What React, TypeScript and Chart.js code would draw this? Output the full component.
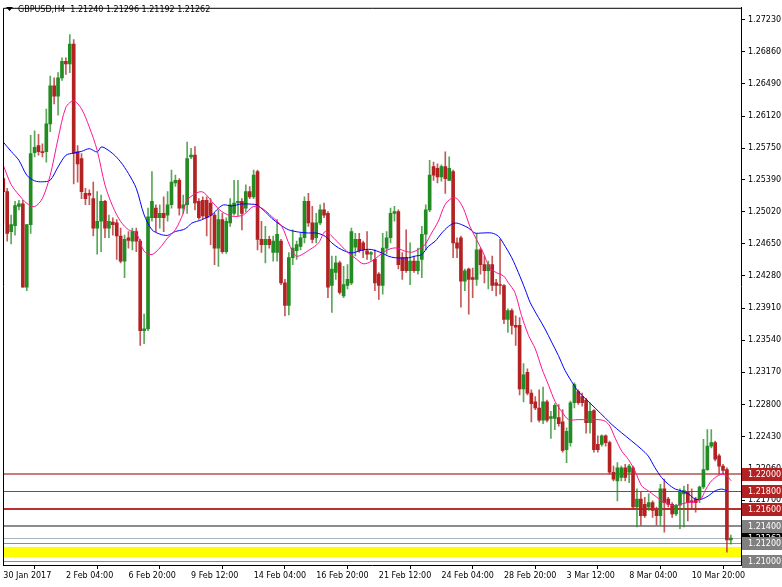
import React, { useEffect, useRef } from "react";
import { Chart, registerables } from "chart.js";

Chart.register(...registerables);

// ---- DATA ----
const opens = [
  1.2540, 1.2525, 1.2479, 1.2486, 1.2508, 1.2511, 1.2415, 1.2487, 1.2570, 1.2578,
  1.2571, 1.2571, 1.2603, 1.2647, 1.2635, 1.2656, 1.2675, 1.2672, 1.2695, 1.2571,
  1.2563, 1.2523, 1.2523, 1.2517, 1.2483, 1.2491, 1.2514, 1.2483, 1.2490, 1.2489,
  1.2474, 1.2445, 1.2472, 1.2468, 1.2479, 1.2468, 1.2365, 1.2367, 1.2495, 1.2506,
  1.2495, 1.2500, 1.2498, 1.2510, 1.2535, 1.2538, 1.2506, 1.2510, 1.2565, 1.2567,
  1.2514, 1.2515, 1.2515, 1.2512, 1.2498, 1.2460, 1.2493, 1.2456, 1.2489, 1.2500,
  1.2512, 1.2514, 1.2506, 1.2525, 1.2519, 1.2548, 1.2470, 1.2464, 1.2470, 1.2455,
  1.2455, 1.2468, 1.2420, 1.2394, 1.2449, 1.2457, 1.2462, 1.2472, 1.2514, 1.2489,
  1.2472, 1.2489, 1.2504, 1.2500, 1.2417, 1.2432, 1.2443, 1.2405, 1.2417, 1.2420,
  1.2461, 1.2470, 1.2466, 1.2457, 1.2453, 1.2447, 1.2430, 1.2417, 1.2460, 1.2472,
  1.2500, 1.2502, 1.2449, 1.2449, 1.2434, 1.2445, 1.2434, 1.2447, 1.2476, 1.2504,
  1.2554, 1.2552, 1.2542, 1.2554, 1.2538, 1.2548, 1.2466, 1.2472, 1.2422, 1.2436,
  1.2426, 1.2424, 1.2458, 1.2441, 1.2434, 1.2441, 1.2420, 1.2418, 1.2417, 1.2378,
  1.2388, 1.2371, 1.2371, 1.2298, 1.2317, 1.2293, 1.2283, 1.2276, 1.2262, 1.2283,
  1.2264, 1.2264, 1.2265, 1.2260, 1.2228, 1.2236, 1.2282, 1.2295, 1.2289, 1.2285,
  1.2259, 1.2273, 1.2234, 1.2234, 1.2244, 1.2236, 1.2202, 1.2192, 1.2196, 1.2207,
  1.2202, 1.2207, 1.2162, 1.2171, 1.2165, 1.2162, 1.2167, 1.2158, 1.2152, 1.2183,
  1.2171, 1.2165, 1.2154, 1.2164, 1.2177, 1.2179, 1.2169, 1.2171, 1.2171, 1.2185,
  1.2205, 1.2232, 1.2236, 1.2221, 1.2209, 1.2205, 1.21240,
];
const highs = [
  1.2548, 1.2529, 1.2498, 1.2514, 1.2515, 1.2515, 1.2487, 1.2590, 1.2595, 1.2591,
  1.2580, 1.2620, 1.2658, 1.2656, 1.2662, 1.2679, 1.2679, 1.2706, 1.2700, 1.2578,
  1.2569, 1.2529, 1.2527, 1.2536, 1.2525, 1.2521, 1.2515, 1.2498, 1.2495, 1.2493,
  1.2483, 1.2475, 1.2479, 1.2483, 1.2483, 1.2470, 1.2384, 1.2506, 1.2548, 1.2510,
  1.2510, 1.2519, 1.2525, 1.2550, 1.2544, 1.2540, 1.2521, 1.2582, 1.2575, 1.2577,
  1.2517, 1.2519, 1.2519, 1.2517, 1.2500, 1.2504, 1.2500, 1.2495, 1.2517, 1.2538,
  1.2538, 1.2517, 1.2533, 1.2531, 1.2550, 1.2550, 1.2491, 1.2485, 1.2474, 1.2474,
  1.2493, 1.2470, 1.2424, 1.2455, 1.2481, 1.2468, 1.2477, 1.2519, 1.2523, 1.2508,
  1.2500, 1.2510, 1.2512, 1.2502, 1.2451, 1.2451, 1.2445, 1.2439, 1.2441, 1.2483,
  1.2477, 1.2477, 1.2468, 1.2479, 1.2456, 1.2458, 1.2432, 1.2477, 1.2479, 1.2506,
  1.2508, 1.2504, 1.2455, 1.2481, 1.2466, 1.2451, 1.2460, 1.2485, 1.2510, 1.2561,
  1.2559, 1.2557, 1.2556, 1.2571, 1.2565, 1.2550, 1.2472, 1.2474, 1.2436, 1.2437,
  1.2437, 1.2477, 1.2460, 1.2451, 1.2445, 1.2451, 1.2424, 1.2470, 1.2418, 1.2390,
  1.2390, 1.2382, 1.2380, 1.2327, 1.2321, 1.2297, 1.2289, 1.2297, 1.2300, 1.2285,
  1.2272, 1.2281, 1.2280, 1.2274, 1.2253, 1.2284, 1.2305, 1.2297, 1.2293, 1.2287,
  1.2282, 1.2274, 1.2244, 1.2245, 1.2245, 1.2238, 1.2209, 1.2213, 1.2209, 1.2211,
  1.2211, 1.2209, 1.2183, 1.2179, 1.2173, 1.2177, 1.2169, 1.2162, 1.2188, 1.2194,
  1.2173, 1.2167, 1.2165, 1.2183, 1.2186, 1.2188, 1.2183, 1.2173, 1.2186, 1.2240,
  1.2251, 1.2251, 1.2238, 1.2223, 1.2211, 1.2207, 1.21296,
];
const lows = [
  1.2489, 1.2468, 1.2465, 1.2475, 1.2504, 1.2415, 1.2411, 1.2477, 1.2565, 1.2567,
  1.2565, 1.2559, 1.2594, 1.2626, 1.2613, 1.2653, 1.2660, 1.2662, 1.2534, 1.2536,
  1.2517, 1.2510, 1.2510, 1.2474, 1.2453, 1.2456, 1.2472, 1.2472, 1.2475, 1.2447,
  1.2443, 1.2426, 1.2460, 1.2458, 1.2456, 1.2348, 1.2350, 1.2365, 1.2491, 1.2479,
  1.2483, 1.2479, 1.2491, 1.2506, 1.2531, 1.2498, 1.2500, 1.2500, 1.2563, 1.2504,
  1.2493, 1.2494, 1.2474, 1.2464, 1.2441, 1.2439, 1.2454, 1.2454, 1.2485, 1.2498,
  1.2497, 1.2481, 1.2502, 1.2517, 1.2517, 1.2458, 1.2455, 1.2443, 1.2460, 1.2445,
  1.2445, 1.2418, 1.2382, 1.2383, 1.2441, 1.2447, 1.2458, 1.2466, 1.2485, 1.2466,
  1.2466, 1.2487, 1.2495, 1.2403, 1.2386, 1.2424, 1.2407, 1.2403, 1.2413, 1.2418,
  1.2451, 1.2455, 1.2449, 1.2447, 1.2446, 1.2411, 1.2401, 1.2407, 1.2453, 1.2466,
  1.2491, 1.2436, 1.2424, 1.2432, 1.2418, 1.2432, 1.2430, 1.2426, 1.2458, 1.2502,
  1.2538, 1.2535, 1.2537, 1.2523, 1.2538, 1.2449, 1.2449, 1.2392, 1.2411, 1.2384,
  1.2403, 1.2417, 1.2430, 1.2420, 1.2413, 1.2411, 1.2405, 1.2407, 1.2373, 1.2363,
  1.2361, 1.2348, 1.2291, 1.2283, 1.2291, 1.2260, 1.2274, 1.2260, 1.2258, 1.2260,
  1.2241, 1.2251, 1.2255, 1.2225, 1.2213, 1.2232, 1.2276, 1.2280, 1.2278, 1.2247,
  1.2247, 1.2225, 1.2225, 1.2232, 1.2232, 1.2200, 1.2192, 1.2169, 1.2192, 1.2192,
  1.2190, 1.2160, 1.2139, 1.2141, 1.2150, 1.2158, 1.2150, 1.2141, 1.2141, 1.2133,
  1.2162, 1.2150, 1.2152, 1.2137, 1.2139, 1.2146, 1.2160, 1.2156, 1.2167, 1.2183,
  1.2204, 1.2230, 1.2215, 1.2200, 1.2200, 1.2110, 1.21192,
];
const closes = [
  1.2525, 1.2477, 1.2487, 1.2509, 1.2511, 1.2415, 1.2487, 1.2569, 1.2576, 1.2571,
  1.2570, 1.2603, 1.2647, 1.2635, 1.2656, 1.2675, 1.2672, 1.2695, 1.2569, 1.2557,
  1.2525, 1.2517, 1.2521, 1.2483, 1.2491, 1.2514, 1.2483, 1.2491, 1.2487, 1.2474,
  1.2445, 1.2470, 1.2469, 1.2479, 1.2468, 1.2365, 1.2367, 1.2496, 1.2514, 1.2495,
  1.2500, 1.2495, 1.2510, 1.2536, 1.2538, 1.2506, 1.2510, 1.2563, 1.2567, 1.2512,
  1.2495, 1.2497, 1.2495, 1.2498, 1.2460, 1.2493, 1.2456, 1.2491, 1.2510, 1.2512,
  1.2514, 1.2500, 1.2525, 1.2519, 1.2544, 1.2470, 1.2464, 1.2470, 1.2464, 1.2468,
  1.2476, 1.2420, 1.2394, 1.2449, 1.2460, 1.2464, 1.2472, 1.2514, 1.2489, 1.2470,
  1.2489, 1.2504, 1.2498, 1.2415, 1.2436, 1.2443, 1.2409, 1.2418, 1.2424, 1.2479,
  1.2470, 1.2457, 1.2458, 1.2453, 1.2455, 1.2420, 1.2417, 1.2460, 1.2472, 1.2500,
  1.2502, 1.2441, 1.2434, 1.2434, 1.2445, 1.2434, 1.2445, 1.2476, 1.2504, 1.2544,
  1.2544, 1.2542, 1.2554, 1.2540, 1.2552, 1.2466, 1.2460, 1.2422, 1.2434, 1.2424,
  1.2424, 1.2458, 1.2441, 1.2434, 1.2441, 1.2417, 1.2417, 1.2417, 1.2378, 1.2388,
  1.2371, 1.2369, 1.2298, 1.2314, 1.2293, 1.2281, 1.2276, 1.2262, 1.2283, 1.2262,
  1.2266, 1.2279, 1.2258, 1.2227, 1.2249, 1.2282, 1.2303, 1.2282, 1.2282, 1.2259,
  1.2272, 1.2228, 1.2228, 1.2244, 1.2236, 1.2202, 1.2194, 1.2207, 1.2207, 1.2196,
  1.2209, 1.2162, 1.2171, 1.2152, 1.2152, 1.2167, 1.2158, 1.2152, 1.2183, 1.2167,
  1.2165, 1.2154, 1.2164, 1.2179, 1.2181, 1.2167, 1.2168, 1.2167, 1.2185, 1.2205,
  1.2232, 1.2236, 1.2217, 1.2209, 1.2204, 1.2124, 1.21262,
];

const xTickBars = [0, 16, 32, 48, 64, 80, 96, 112, 128, 144, 160, 176];
const xTickLabels = [
  "30 Jan 2017", "2 Feb 04:00", "6 Feb 20:00", "9 Feb 12:00", "14 Feb 04:00", "16 Feb 20:00",
  "21 Feb 12:00", "24 Feb 04:00", "28 Feb 20:00", "3 Mar 12:00", "8 Mar 04:00", "10 Mar 20:00",
];
const yTickValues = [
  1.2723, 1.2686, 1.2649, 1.2612, 1.2575, 1.2539, 1.2502, 1.2465, 1.2428, 1.2391,
  1.2354, 1.2317, 1.228, 1.2243, 1.2206, 1.217, 1.2133, 1.2096,
];

// fast MA (pink) samples: bar position, value
const pinkMaX = [
  0, 2, 4, 6, 8, 10, 12, 14, 16, 18, 20, 22, 24, 26, 28, 30, 32, 34, 36, 38, 40, 42, 44, 46, 47,
  50.7, 53.7, 55.8, 58.8, 61.4, 63.9, 66.1, 68.6, 71.2, 73.3, 75.0, 78.4, 80.6, 82.3, 84.0, 86.5,
  88.2, 89.9, 92.0, 94.2, 97.6, 100.2, 102.7, 104.4, 106.1, 107.8, 109.5, 111.2, 112.9, 114.6,
  115.9, 117.6, 119.3, 121.0, 122.7, 124.4, 126.1, 127.9, 129.1, 130.8, 132.5, 134.3, 136.0,
  137.7, 139.4, 141.1, 142.8, 144.5, 147.0, 149.6, 152.1, 153.9, 155.1, 156.4, 158.1, 159.8,
  161.5, 163.2, 164.9, 166.6, 168.3, 170.0, 171.8, 173.4, 175.2, 176.9, 178.6, 179.4, 180.7,
  182.0, 183.7, 185.0, 186.1,
];
const pinkMaY = [
  1.25554, 1.25333, 1.25212, 1.25116, 1.25078, 1.25173, 1.2544, 1.25859, 1.26221, 1.26297,
  1.26202, 1.25993, 1.25726, 1.25326, 1.25078, 1.24907, 1.24812, 1.24773, 1.24564, 1.24526,
  1.24602, 1.24716, 1.24812, 1.25002, 1.25154,
  1.2525, 1.25117, 1.25022, 1.24965, 1.24984, 1.25079, 1.2506, 1.24965, 1.2485, 1.24622,
  1.24507, 1.24584, 1.2466, 1.24793, 1.24736, 1.24622, 1.24545, 1.24488, 1.2442, 1.2445,
  1.24565, 1.24603, 1.24565, 1.24553, 1.24584, 1.24641, 1.24774, 1.24908, 1.25098, 1.25174,
  1.25174, 1.2506, 1.2485, 1.24698, 1.24546, 1.24374, 1.24317, 1.24279, 1.24203, 1.24089,
  1.23822, 1.23593, 1.23441, 1.23212, 1.23022, 1.22831, 1.22717, 1.22626, 1.22626, 1.22626,
  1.22626, 1.22607, 1.22549, 1.22416, 1.22264, 1.22168, 1.22035, 1.21864, 1.21806, 1.21749,
  1.21692, 1.21654, 1.21635, 1.21654, 1.21673, 1.21673, 1.2173, 1.21806, 1.21902, 1.21959,
  1.21997, 1.21978, 1.21921,
];

// slow MA (blue) samples
const blueMaX = [
  0, 2, 4, 6, 8, 10, 12, 14, 16, 18, 20, 22, 24, 25, 26, 28, 30, 32, 34, 36, 38, 40, 42, 44, 46, 47,
  48.2, 50.7, 53.3, 55.0, 56.3, 58.4, 60.9, 63.5, 64.8, 66.9, 68.6, 70.8, 72.9, 75.5, 78.0, 80.1,
  82.3, 84.0, 85.7, 87.4, 89.1, 90.8, 92.5, 94.2, 96.7, 98.4, 100.2, 103.6, 105.3, 107.0, 108.7,
  110.4, 112.1, 113.8, 115.5, 117.2, 118.9, 120.6, 122.3, 124.9, 126.6, 128.3, 130.0, 131.7,
  133.4, 134.7, 136.8, 138.5, 140.2, 141.9, 143.6, 145.3, 147.0, 148.7, 151.3, 153.9, 155.6,
  158.1, 160.7, 163.2, 164.9, 166.6, 168.3, 170.0, 171.8, 173.4, 175.2, 176.9, 178.6, 180.3,
  182.0, 183.7, 185.0,
];
const blueMaY = [
  1.25821, 1.25714, 1.25611, 1.2544, 1.25375, 1.25364, 1.25383, 1.25535, 1.25669, 1.25695,
  1.25714, 1.25745, 1.25707, 1.25764, 1.25752, 1.25688, 1.25593, 1.25459, 1.25288, 1.24983,
  1.24812, 1.24762, 1.24747, 1.24792, 1.24812, 1.24838,
  1.24888, 1.24926, 1.24984, 1.2506, 1.25098, 1.25086, 1.25109, 1.25106, 1.25098, 1.25022,
  1.24945, 1.24869, 1.24812, 1.24785, 1.24774, 1.24774, 1.24736, 1.2466, 1.24603, 1.24565,
  1.24545, 1.24565, 1.24584, 1.24584, 1.24546, 1.24508, 1.24489, 1.24489, 1.24508, 1.24527,
  1.24622, 1.24679, 1.24774, 1.2485, 1.24889, 1.2487, 1.24832, 1.24774, 1.24774, 1.24774,
  1.24736, 1.24622, 1.24489, 1.24317, 1.24127, 1.23974, 1.23803, 1.23669, 1.23517, 1.23365,
  1.23193, 1.23064, 1.22949, 1.22873, 1.22759, 1.22645, 1.22568, 1.22473, 1.22378, 1.22283,
  1.22206, 1.22073, 1.21959, 1.21883, 1.21826, 1.21806, 1.21768, 1.21711, 1.21711, 1.21749,
  1.21806, 1.21826, 1.21806,
];

const levelPrices = [1.22, 1.218, 1.216, 1.214, 1.212, 1.21];
const bidPrice = 1.21262;
const bandTop = 1.2116;
const bandBottom = 1.21043;
const titleText = "GBPUSD,H4  1.21240 1.21296 1.21192 1.21262";

// ---- STYLES ----
const levelLineColors = ["rgba(190,90,90,0.8)", "#b83030", "#b83030", "#8c8c8c", "#8c8c8c", "#8c8c8c"];
const levelLineWidths = [2, 1, 2, 2, 1, 1];
const levelBoxColors = ["#b22222", "#b22222", "#b22222", "#808080", "#808080", "#808080"];
const FONT = "DejaVu Sans";
const BULL = "#228b22";
const BEAR = "#b22222";
const BULL_WICK = "rgba(34,139,34,0.75)";
const BEAR_WICK = "rgba(178,34,34,0.75)";

const Y_MIN = 1.20952;
const Y_MAX = 1.27367;
const X_MIN = -0.077;
const X_MAX = 188.6;

const decorPlugin = {
  id: "mt4decor",
  beforeDatasetsDraw(chart: any) {
    const { ctx, chartArea } = chart;
    const y = chart.scales.y;
    ctx.save();
    ctx.beginPath();
    ctx.rect(chartArea.left, chartArea.top, chartArea.right - chartArea.left, chartArea.bottom - chartArea.top);
    ctx.clip();
    // yellow band
    const yt = y.getPixelForValue(bandTop);
    const yb = y.getPixelForValue(bandBottom);
    ctx.fillStyle = "#ffff00";
    ctx.fillRect(chartArea.left, yt, chartArea.right - chartArea.left, yb - yt);
    // level lines
    levelPrices.forEach((p, k) => {
      const py = Math.round(y.getPixelForValue(p)) + (levelLineWidths[k] % 2 ? 0.5 : 0);
      ctx.strokeStyle = levelLineColors[k];
      ctx.lineWidth = levelLineWidths[k];
      ctx.beginPath();
      ctx.moveTo(chartArea.left, py);
      ctx.lineTo(chartArea.right, py);
      ctx.stroke();
    });
    // bid line
    const by = Math.round(y.getPixelForValue(bidPrice)) + 0.5;
    ctx.strokeStyle = "#a9b4c2";
    ctx.lineWidth = 1;
    ctx.beginPath();
    ctx.moveTo(chartArea.left, by);
    ctx.lineTo(chartArea.right, by);
    ctx.stroke();
    ctx.restore();
  },
  afterDraw(chart: any) {
    const { ctx, chartArea } = chart;
    const y = chart.scales.y;
    ctx.save();
    // frame (left + top)
    ctx.strokeStyle = "#000";
    ctx.lineWidth = 1;
    ctx.beginPath();
    ctx.moveTo(chartArea.left + 0.5, chartArea.bottom);
    ctx.lineTo(chartArea.left + 0.5, chartArea.top + 0.5);
    ctx.lineTo(chartArea.right, chartArea.top + 0.5);
    ctx.stroke();
    // title
    ctx.fillStyle = "#000";
    ctx.beginPath();
    ctx.moveTo(6, 7);
    ctx.lineTo(13, 7);
    ctx.lineTo(9.5, 11);
    ctx.closePath();
    ctx.fill();
    ctx.font = `8px "${FONT}"`;
    ctx.textBaseline = "middle";
    ctx.textAlign = "left";
    ctx.fillText(titleText, 18, 10);
    // price boxes
    const box = (p: number, bg: string, txt: string) => {
      const py = Math.round(y.getPixelForValue(p));
      ctx.fillStyle = bg;
      ctx.fillRect(742, py - 6, 40, 13);
      ctx.fillStyle = "#fff";
      ctx.fillText(txt, 748, py + 0.5);
    };
    box(bidPrice, "#000", bidPrice.toFixed(5));
    levelPrices.forEach((p, k) => box(p, levelBoxColors[k], p.toFixed(5)));
    ctx.restore();
  },
};

export default function App() {
  const ref = useRef<HTMLCanvasElement | null>(null);
  useEffect(() => {
    if (!ref.current) return;
    const idx = opens.map((_, i) => i);
    const up = idx.map((i) => closes[i] >= opens[i]);
    const chart = new Chart(ref.current, {
      type: "bar",
      data: {
        datasets: [
          {
            type: "line",
            data: pinkMaX.map((x, k) => ({ x, y: pinkMaY[k] })),
            borderColor: "#ff1493",
            borderWidth: 1,
            pointRadius: 0,
            fill: false,
            tension: 0.3,
            order: 0,
          } as any,
          {
            type: "line",
            data: blueMaX.map((x, k) => ({ x, y: blueMaY[k] })),
            borderColor: "#0000ff",
            borderWidth: 1,
            pointRadius: 0,
            fill: false,
            tension: 0.3,
            order: 0,
          } as any,
          {
            type: "bar",
            data: idx.map((i) => ({ x: i, y: [opens[i], closes[i]] })),
            backgroundColor: idx.map((i) => (up[i] ? BULL : BEAR)),
            barThickness: 3,
            minBarLength: 1,
            grouped: false,
            order: 1,
          } as any,
          {
            type: "bar",
            data: idx.map((i) => ({ x: i, y: [lows[i], highs[i]] })),
            backgroundColor: idx.map((i) => (up[i] ? BULL_WICK : BEAR_WICK)),
            barThickness: 1,
            minBarLength: 1,
            grouped: false,
            order: 2,
          } as any,
        ],
      },
      options: {
        animation: false,
        responsive: false,
        maintainAspectRatio: false,
        layout: { padding: { left: 3, top: 3, right: 0, bottom: 0 } },
        plugins: { legend: { display: false }, tooltip: { enabled: false } },
        scales: {
          x: {
            type: "linear",
            min: X_MIN,
            max: X_MAX,
            offset: false,
            grid: { display: true, drawOnChartArea: false, drawTicks: true, tickLength: 4, color: "#000" },
            border: { display: true, color: "#000" },
            ticks: {
              autoSkip: false,
              maxRotation: 0,
              align: "start",
              padding: 2,
              color: "#000",
              font: { family: FONT, size: 8 },
              callback: (v: any) => {
                const k = xTickBars.indexOf(Number(v));
                return k >= 0 ? xTickLabels[k] : "";
              },
            },
            afterBuildTicks: (s: any) => {
              s.ticks = xTickBars.map((v) => ({ value: v }));
            },
            afterFit: (s: any) => {
              s.height = 22;
            },
          },
          y: {
            type: "linear",
            position: "right",
            min: Y_MIN,
            max: Y_MAX,
            grid: { display: true, drawOnChartArea: false, drawTicks: true, tickLength: 4, color: "#000" },
            border: { display: true, color: "#000" },
            ticks: {
              autoSkip: false,
              padding: 3,
              color: "#000",
              font: { family: FONT, size: 8 },
              callback: (v: any) => Number(v).toFixed(5),
            },
            afterBuildTicks: (s: any) => {
              s.ticks = yTickValues.map((v) => ({ value: v }));
            },
            afterFit: (s: any) => {
              s.width = 41;
            },
          },
        },
      } as any,
      plugins: [decorPlugin],
    });
    return () => chart.destroy();
  }, []);
  return (
    <div style={{ position: "fixed", left: 0, top: 0, width: 782, height: 587, background: "#fff" }}>
      <canvas ref={ref} width={782} height={587} style={{ display: "block", width: 782, height: 587 }} />
    </div>
  );
}
